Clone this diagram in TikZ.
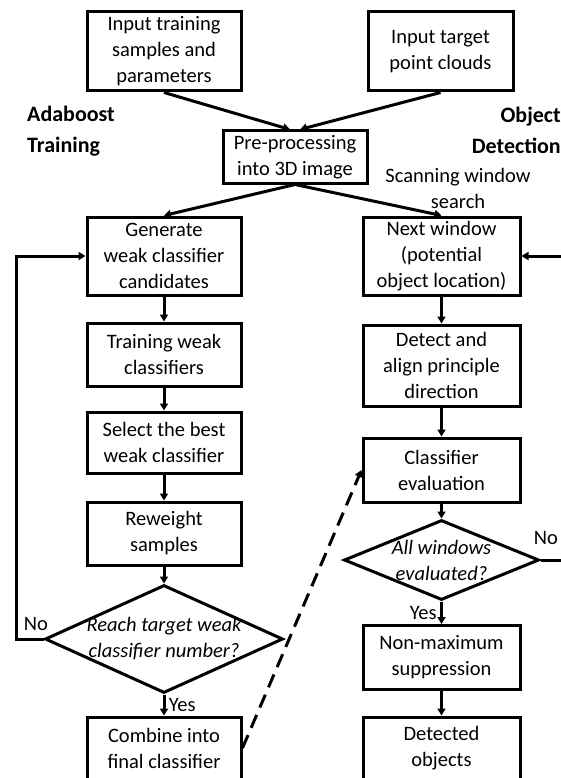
\documentclass[tikz,border=0pt]{standalone}
\usepackage{fontspec}
\setmainfont{Carlito}
\usetikzlibrary{shapes.geometric, arrows.meta}

\begin{document}
\begin{tikzpicture}[
  x=1pt, y=-1pt,
  every node/.style={font=\fontsize{20.5}{26}\selectfont},
  box/.style={draw=black, line width=3pt, minimum width=154pt, minimum height=62pt, align=center, inner sep=2pt},
  decision/.style={draw=black, line width=3pt, diamond, inner sep=0pt},
  question/.style={font=\fontsize{20.5}{26}\selectfont\itshape, align=center},
  heading/.style={font=\fontsize{22}{31}\selectfont\bfseries, inner sep=0pt},
  arrow/.style={line width=3pt, ->, >={Triangle[length=7pt,width=8pt]}}
]
  \useasboundingbox (0,0) rectangle (561,778);

  % inputs and common pre-processing
  \node (intrain) [box, minimum height=79pt] at (164,51.5) {Input training\\samples and\\parameters};
  \node (intarget) [box, minimum width=145pt, minimum height=79pt] at (440.5,51.5) {Input target\\point clouds};
  \node (prep) [box, minimum width=144pt, minimum height=52pt] at (295,157) {Pre-processing\\into 3D image};

  \node (adaboost) [heading, anchor=west, align=left] at (27,131) {Adaboost\\Training};
  \node (objdet) [heading, anchor=east, align=right] at (561,130) {Object\\Detection};
  \node (scan) [align=center] at (458,188) {Scanning window\\search};

  % training branch
  \node (gen) [box, minimum height=78pt] at (164,256) {Generate\\weak classifier\\candidates};
  \node (train) [box, below of=gen, node distance=98.5pt, minimum height=63pt] {Training weak\\classifiers};
  \node (select) [box, below of=train, node distance=88pt, minimum height=61pt] {Select the best\\weak classifier};
  \node (reweight) [box, below of=select, node distance=91pt, minimum height=63pt] {Reweight\\samples};
  \node (reach) [decision, below of=reweight, node distance=105.5pt, minimum width=238pt, minimum height=108pt] {};
  \node (reachq) [question] at (reach) {Reach target weak\\classifier number?};
  \node (combine) [box, below of=reach, node distance=109pt] {Combine into\\final classifier};

  % detection branch
  \node (next) [box, minimum width=157pt, minimum height=78pt] at (441.5,256) {Next window\\(potential\\object location)};
  \node (detect) [box, below of=next, node distance=109.5pt, minimum width=157pt, minimum height=81pt] {Detect and\\align principle\\direction};
  \node (classif) [box, below of=detect, node distance=104.5pt, minimum width=157pt, minimum height=64pt] {Classifier\\evaluation};
  \node (allwin) [decision, below of=classif, node distance=90pt, minimum width=195pt, minimum height=80pt] {};
  \node (allwinq) [question] at (allwin) {All windows\\evaluated?};
  \node (nms) [box, below of=allwin, node distance=97.5pt, minimum width=157pt, minimum height=64pt] {Non-maximum\\suppression};
  \node (detected) [box, below of=nms, node distance=90.5pt, minimum width=157pt] {Detected\\objects};

  \node (noleft) at (36,624) {No};
  \node (noright) at (546,538) {No};

  \draw [arrow] (intrain.south) -- ([xshift=-5pt]prep.north);
  \draw [arrow] (intarget.south) -- ([xshift=5pt]prep.north);
  \draw [arrow] (prep.south) -- (gen.north);
  \draw [arrow] (prep.south) -- (next.north);

  \draw [arrow] (gen) -- (train);
  \draw [arrow] (train) -- (select);
  \draw [arrow] (select) -- (reweight);
  \draw [arrow] (reweight) -- (reach);
  \draw [arrow] (reach) -- node[right] {Yes} (combine);
  \draw [arrow] (reach.west) -- ++(-27,0) |- (gen.west);

  \draw [arrow] (next) -- (detect);
  \draw [arrow] (detect) -- (classif);
  \draw [arrow] (classif) -- (allwin);
  \draw [arrow] (allwin) -- node[left] {Yes} (nms);
  \draw [arrow] (nms) -- (detected);
  \draw [arrow] (allwin.east) -- ++(24,0) |- (next.east);

  \draw [arrow, dash pattern=on 14pt off 8pt] (combine.east) -- (classif.west);
\end{tikzpicture}
\end{document}
